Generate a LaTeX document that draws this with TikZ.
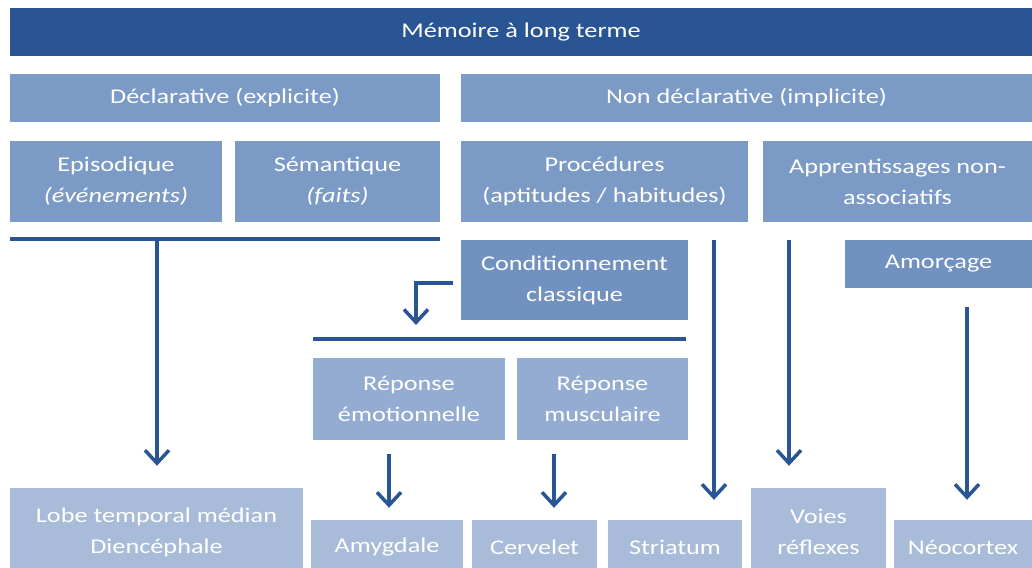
\documentclass[tikz,border=0pt]{standalone}
\usepackage{fontspec}
\setmainfont{Carlito}[FakeStretch=1.25]
\usetikzlibrary{arrows.meta}
\definecolor{bleufonce}{HTML}{2A5594}
\definecolor{bleumoyen}{HTML}{7B9BC6}
\definecolor{bleucond}{HTML}{7191C0}
\definecolor{bleureponse}{HTML}{94ACD1}
\definecolor{bleuclair}{HTML}{A8BBD9}
\tikzset{boite/.style={rectangle, fill=bleumoyen, text=white, align=center,
    inner sep=0pt, font=\fontsize{21}{31}\selectfont},
  structure/.style={boite, fill=bleuclair},
  taille/.style 2 args={minimum width=#1pt, minimum height=#2pt},
  trait/.style={draw=bleufonce, line width=3.5pt},
  fleche/.style={trait, -{Straight Barb[length=13pt,width=24pt]}}}

\begin{document}
\begin{tikzpicture}[x=1pt, y=-1pt]
  \useasboundingbox (0,0) rectangle (1032,567);
  % niveaux du haut
  \node[boite, taille={1022}{48}, fill=bleufonce] (titre) at (521,32) {Mémoire à long terme};
  \node[boite, taille={430}{48}] (decl) at (225,98) {Déclarative (explicite)};
  \node[boite, taille={571}{48}] (nondecl) at (746.5,98) {Non déclarative (implicite)};
  \node[boite, taille={212}{81}] (episo) at (116,181.5) {Episodique\\\textit{(événements)}};
  \node[boite, taille={205}{81}] (seman) at (337.5,181.5) {Sémantique\\\textit{(faits)}};
  \node[boite, taille={287}{81}] (proc) at (604.5,181.5) {Procédures\\(aptitudes / habitudes)};
  \node[boite, taille={269}{81}] (appr) at (897.5,181.5) {Apprentissages non-\\associatifs};
  \node[boite, taille={227}{80}, fill=bleucond] (condi) at (574.5,280) {Conditionnement\\classique};
  \node[boite, taille={187}{48}, fill=bleucond] (amorc) at (938.5,264) {Amorçage};
  \node[boite, taille={192}{82}, fill=bleureponse] (repemo) at (409,399) {Réponse\\émotionnelle};
  \node[boite, taille={171}{82}, fill=bleureponse] (repmus) at (602.5,399) {Réponse\\musculaire};
  % structures cerebrales
  \node[structure, taille={293}{88}] (lobe) at (156.5,532) {Lobe temporal médian\\Diencéphale};
  \node[structure, taille={152}{54}] (amyg) at (387,547) {Amygdale};
  \node[structure, taille={125}{54}] (cerv) at (534.5,547) {Cervelet};
  \node[structure, taille={134}{54}] (stria) at (675,547) {Striatum};
  \node[structure, taille={135}{88}] (voies) at (818.5,532) {Voies\\réflexes};
  \node[structure, taille={138}{54}] (neoc) at (963,547) {Néocortex};
  % barres et fleches
  \coordinate (b1g) at (10,239);
  \coordinate (b1d) at (440,239);
  \coordinate (b1m) at (157,239);
  \draw[trait] (b1g) -- (b1d);
  \draw[fleche, shorten >=22pt] (b1m) -- (b1m |- lobe.north);
  \coordinate (b2g) at (313,339);
  \coordinate (b2d) at (686,339);
  \coordinate (c2) at (416,325);
  \draw[trait] (b2g) -- (b2d);
  \draw[fleche] ([xshift=-8pt,yshift=-3pt]condi.west) -| (c2);
  \draw[fleche, shorten <=14pt, shorten >=12pt] ([xshift=-20pt]repemo.south) -- ([xshift=2pt]amyg.north);
  \draw[fleche, shorten <=14pt, shorten >=12pt] ([xshift=-48.5pt]repmus.south) -- ([xshift=19.5pt]cerv.north);
  \draw[fleche, shorten <=18pt, shorten >=20pt] ([xshift=109.5pt]proc.south) -- ([xshift=39pt]stria.north);
  \draw[fleche, shorten <=18pt, shorten >=22pt] ([xshift=-108.5pt]appr.south) -- ([xshift=-29.5pt]voies.north);
  \draw[fleche, shorten <=19pt, shorten >=20pt] ([xshift=28.5pt]amorc.south) -- ([xshift=4pt]neoc.north);
\end{tikzpicture}
\end{document}
